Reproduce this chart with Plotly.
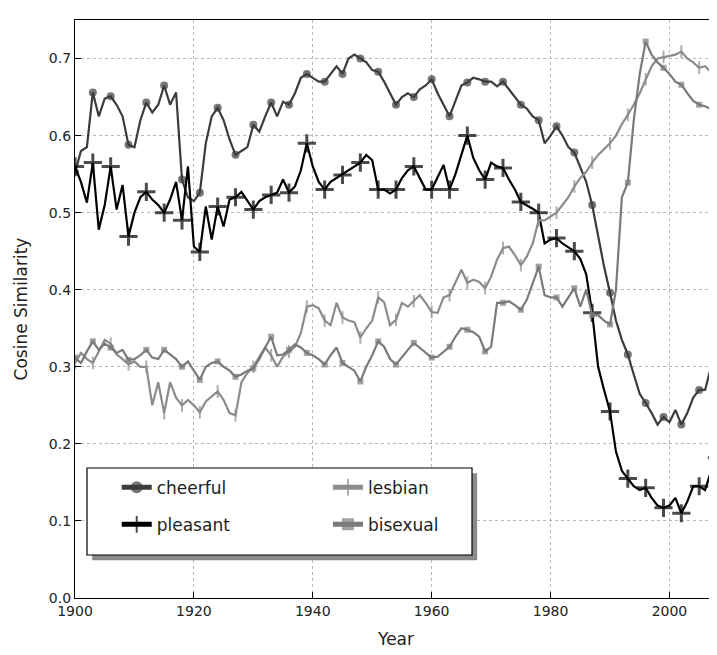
import plotly.graph_objects as go

years = list(range(1900, 2009))

cheerful = [0.552, 0.58, 0.585, 0.656, 0.625, 0.648, 0.651, 0.64, 0.625, 0.588,
            0.585, 0.62, 0.643, 0.63, 0.64, 0.665, 0.64, 0.656, 0.543, 0.52,
            0.515, 0.526, 0.59, 0.625, 0.636, 0.62, 0.595, 0.575, 0.58, 0.585,
            0.614, 0.605, 0.625, 0.643, 0.625, 0.644, 0.64, 0.655, 0.675, 0.68,
            0.675, 0.67, 0.67, 0.68, 0.69, 0.68, 0.70, 0.705, 0.70, 0.695,
            0.685, 0.683, 0.67, 0.655, 0.64, 0.65, 0.655, 0.65, 0.66, 0.665,
            0.673, 0.655, 0.64, 0.625, 0.645, 0.665, 0.669, 0.675, 0.673, 0.67,
            0.67, 0.664, 0.67, 0.66, 0.65, 0.64, 0.635, 0.625, 0.62, 0.59,
            0.60, 0.612, 0.60, 0.585, 0.578, 0.56, 0.54, 0.51, 0.47, 0.43,
            0.396, 0.36, 0.335, 0.316, 0.29, 0.265, 0.253, 0.24, 0.225, 0.235,
            0.228, 0.244, 0.225, 0.24, 0.26, 0.27, 0.27, 0.30, 0.322]

pleasant = [0.56, 0.54, 0.513, 0.565, 0.478, 0.51, 0.56, 0.504, 0.536, 0.469,
            0.50, 0.52, 0.527, 0.517, 0.51, 0.50, 0.517, 0.54, 0.49, 0.56,
            0.456, 0.449, 0.508, 0.465, 0.508, 0.482, 0.517, 0.52, 0.527, 0.515,
            0.504, 0.515, 0.52, 0.523, 0.526, 0.543, 0.526, 0.534, 0.555, 0.59,
            0.56, 0.54, 0.53, 0.54, 0.545, 0.549, 0.555, 0.56, 0.565, 0.575,
            0.568, 0.53, 0.53, 0.525, 0.53, 0.545, 0.555, 0.56, 0.545, 0.53,
            0.53, 0.545, 0.562, 0.53, 0.55, 0.575, 0.60, 0.571, 0.555, 0.543,
            0.565, 0.56, 0.558, 0.543, 0.53, 0.514, 0.51, 0.505, 0.50, 0.46,
            0.465, 0.467, 0.46, 0.455, 0.45, 0.44, 0.42, 0.37, 0.30, 0.27,
            0.242, 0.19, 0.165, 0.155, 0.145, 0.14, 0.143, 0.13, 0.12, 0.117,
            0.12, 0.13, 0.11, 0.125, 0.145, 0.145, 0.14, 0.165, 0.182]

lesbian = [0.305, 0.318, 0.31, 0.305, 0.32, 0.335, 0.33, 0.316, 0.31, 0.303,
           0.307, 0.30, 0.30, 0.25, 0.28, 0.24, 0.28, 0.26, 0.25, 0.257,
           0.25, 0.241, 0.255, 0.262, 0.268, 0.257, 0.24, 0.237, 0.28, 0.292,
           0.30, 0.313, 0.325, 0.315, 0.30, 0.313, 0.32, 0.326, 0.344, 0.378,
           0.38, 0.376, 0.36, 0.354, 0.383, 0.364, 0.36, 0.358, 0.338, 0.35,
           0.36, 0.39, 0.384, 0.354, 0.361, 0.383, 0.378, 0.385, 0.393, 0.383,
           0.371, 0.37, 0.39, 0.393, 0.409, 0.426, 0.409, 0.413, 0.41, 0.402,
           0.417, 0.439, 0.454, 0.456, 0.445, 0.432, 0.443, 0.46, 0.49, 0.49,
           0.495, 0.50, 0.51, 0.52, 0.534, 0.545, 0.553, 0.565, 0.575, 0.582,
           0.59, 0.60, 0.615, 0.627, 0.64, 0.655, 0.673, 0.69, 0.70, 0.702,
           0.703, 0.705, 0.709, 0.70, 0.695, 0.688, 0.69, 0.682, 0.68]

bisexual = [0.312, 0.305, 0.32, 0.333, 0.322, 0.33, 0.325, 0.318, 0.322, 0.309,
            0.31, 0.315, 0.322, 0.312, 0.31, 0.322, 0.316, 0.31, 0.30, 0.307,
            0.295, 0.283, 0.30, 0.305, 0.307, 0.30, 0.295, 0.287, 0.29, 0.295,
            0.298, 0.31, 0.325, 0.339, 0.315, 0.316, 0.322, 0.329, 0.325, 0.318,
            0.315, 0.31, 0.303, 0.315, 0.325, 0.305, 0.30, 0.295, 0.281, 0.30,
            0.315, 0.333, 0.326, 0.31, 0.303, 0.313, 0.322, 0.331, 0.325, 0.318,
            0.312, 0.313, 0.32, 0.326, 0.339, 0.35, 0.348, 0.345, 0.339, 0.32,
            0.326, 0.383, 0.383, 0.385, 0.38, 0.374, 0.387, 0.41, 0.43, 0.393,
            0.39, 0.39, 0.378, 0.39, 0.402, 0.378, 0.40, 0.367, 0.367, 0.36,
            0.355, 0.40, 0.52, 0.539, 0.62, 0.68, 0.722, 0.705, 0.695, 0.688,
            0.68, 0.67, 0.666, 0.655, 0.645, 0.64, 0.638, 0.634, 0.63]

x_ticks = [1900, 1920, 1940, 1960, 1980, 2000]
y_ticks = [0.0, 0.1, 0.2, 0.3, 0.4, 0.5, 0.6, 0.7]

FONT = "DejaVu Sans"


def sizes(n, s):
    return [s if i % 3 == 0 else 0 for i in range(n)]


series = [
    dict(name="cheerful", y=cheerful, color="#3c3c3c", symbol="circle", ms=8,
         mlw=0, legend="legend", rank=1),
    dict(name="pleasant", y=pleasant, color="#000000", symbol="cross-thin", ms=13,
         mlw=3, legend="legend", rank=2),
    dict(name="lesbian", y=lesbian, color="#8c8c8c", symbol="line-ns", ms=9,
         mlw=2, legend="legend2", rank=3),
    dict(name="bisexual", y=bisexual, color="#7a7a7a", symbol="square", ms=6,
         mlw=0, legend="legend2", rank=4),
]

fig = go.Figure()
for s in series:
    fig.add_trace(go.Scatter(
        x=years, y=s["y"], name=s["name"], mode="lines+markers",
        line=dict(color=s["color"], width=2.2),
        marker=dict(symbol=s["symbol"], size=sizes(len(years), s["ms"]),
                    color=s["color"],
                    line=dict(color=s["color"], width=s["mlw"])),
        legend=s["legend"], legendgroup=s["name"], legendrank=s["rank"],
    ))

axis_common = dict(
    showline=True, linecolor="#000", linewidth=1.2, mirror=True,
    ticks="inside", ticklen=6, tickcolor="#000",
    showgrid=True, gridcolor="#b8b8b8", griddash="dot", gridwidth=1,
    zeroline=False, automargin=False,
    tickfont=dict(family=FONT, size=14, color="#222"),
)

fig.update_xaxes(range=[1900, 2008], tickvals=x_ticks,
                 title=dict(text="Year", font=dict(family=FONT, size=17, color="#222"),
                            standoff=15),
                 **axis_common)
fig.update_yaxes(range=[0, 0.75], tickvals=y_ticks, tickformat=".1f",
                 title=dict(text="Cosine Similarity",
                            font=dict(family=FONT, size=17, color="#222"),
                            standoff=16),
                 **axis_common)

# legend box with shadow
bx0, bx1, by0, by1 = 0.0187, 0.6184, 0.0744, 0.2249
fig.add_shape(type="rect", xref="paper", yref="paper",
              x0=bx0 + 0.008, x1=bx1 + 0.008, y0=by0 - 0.009, y1=by1 - 0.009,
              fillcolor="#8a8a8a", line=dict(width=0), layer="above")
fig.add_shape(type="rect", xref="paper", yref="paper",
              x0=bx0, x1=bx1, y0=by0, y1=by1,
              fillcolor="white", line=dict(color="#000", width=1.2), layer="above")

leg_common = dict(
    orientation="v", bgcolor="rgba(0,0,0,0)", borderwidth=0,
    font=dict(family=FONT, size=17, color="#222"),
    itemsizing="constant", tracegroupgap=12,
    xanchor="left", yanchor="top",
)

# the page adds an 8px body margin, so the figure is sized/offset to compensate
fig.update_layout(
    width=709, height=647,
    margin=dict(l=67, r=0, t=12, b=57),
    paper_bgcolor="white", plot_bgcolor="white",
    font=dict(family=FONT),
    showlegend=True,
    legend=dict(x=0.065, y=0.222, **leg_common),
    legend2=dict(x=0.394, y=0.222, **leg_common),
)

fig.write_html("out.html")
